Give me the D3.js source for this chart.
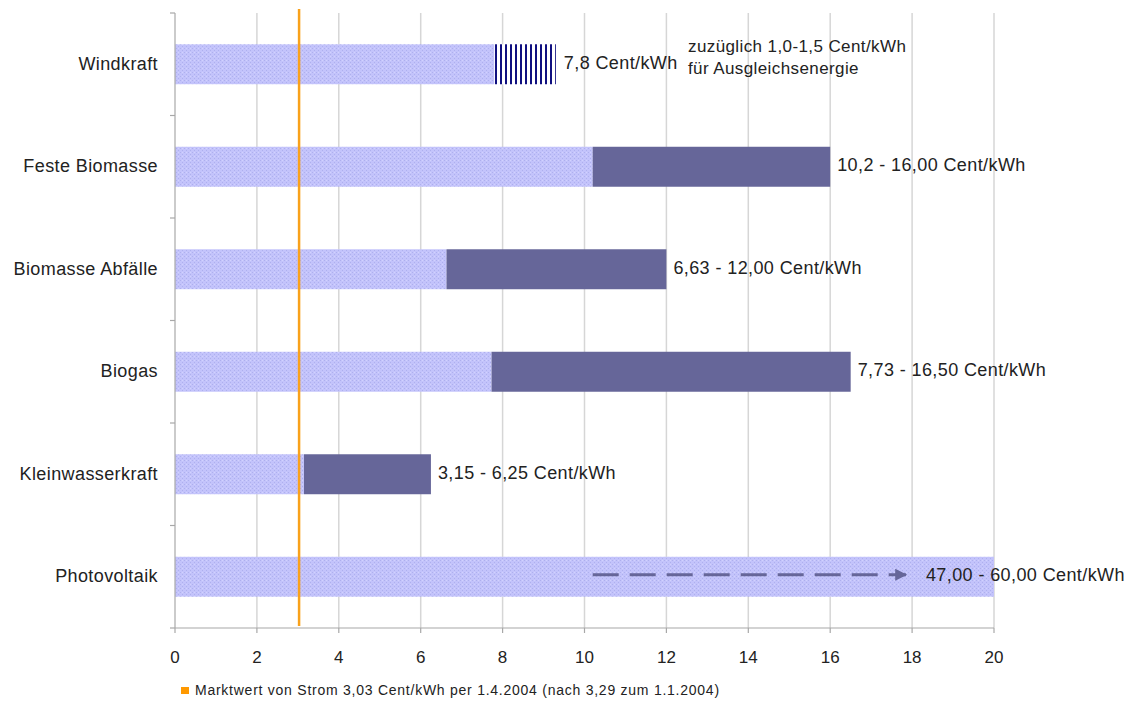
<!DOCTYPE html>
<html>
<head>
<meta charset="utf-8">
<script src="https://cdn.jsdelivr.net/npm/d3@7"></script>
<style>
  html, body { margin: 0; padding: 0; background: #ffffff; }
  svg { display: block; font-family: "Liberation Sans", Arial, sans-serif; }
</style>
</head>
<body>
<svg id="chart" width="1132" height="704"></svg>
<script>
// Einspeisevergütung nach EEG (Cent/kWh) je Energieträger
const categories = ["Windkraft", "Feste Biomasse", "Biomasse Abfälle", "Biogas", "Kleinwasserkraft", "Photovoltaik"];
const lowValues  = [7.8, 10.2, 6.63, 7.73, 3.15, 47.0];
const highValues = [7.8, 16.0, 12.0, 16.5, 6.25, 60.0];
const valueLabels = [
  "7,8 Cent/kWh",
  "10,2 - 16,00 Cent/kWh",
  "6,63 - 12,00 Cent/kWh",
  "7,73 - 16,50 Cent/kWh",
  "3,15 - 6,25 Cent/kWh",
  "47,00 - 60,00 Cent/kWh"
];
// Windkraft: zuzüglich Ausgleichsenergie (max. Zuschlag)
const windSurcharge = 1.5;
const windNote = ["zuzüglich 1,0-1,5 Cent/kWh", "für Ausgleichsenergie"];
// Marktwert von Strom
const marketValue = 3.03;
const legendText = "Marktwert von Strom 3,03 Cent/kWh per 1.4.2004 (nach 3,29 zum 1.1.2004)";
const xTicks = [0, 2, 4, 6, 8, 10, 12, 14, 16, 18, 20];
const xMax = 20;

(function draw() {
const svg = d3.select("#chart");
const plotLeft = 175, plotRight = 994, plotTop = 13, plotBottom = 628;

const x = d3.scaleLinear().domain([0, xMax]).range([plotLeft, plotRight]);
const y = d3.scaleBand().domain(categories).range([plotTop, plotBottom])
  .paddingInner(0.61).paddingOuter(0.305);
const step = y.step();

const COLOR_LIGHT = "#c3c3fb";
const COLOR_DARK = "#666699";
const COLOR_ORANGE = "#f9a11b";
const COLOR_GRID = "#d6d6d6";
const COLOR_AXIS = "#a8a8a8";
const TEXT = "#222";

// Muster: fein gepunktete Füllung und senkrechte Schraffur
const defs = svg.append("defs");
const dots = defs.append("pattern").attr("id", "dots")
  .attr("patternUnits", "userSpaceOnUse").attr("width", 4).attr("height", 4);
dots.append("rect").attr("width", 4).attr("height", 4).attr("fill", COLOR_LIGHT);
dots.append("rect").attr("x", 0).attr("y", 0).attr("width", 1).attr("height", 1).attr("fill", "#aeb0ee");
dots.append("rect").attr("x", 2).attr("y", 2).attr("width", 1).attr("height", 1).attr("fill", "#aeb0ee");
dots.append("rect").attr("x", 2).attr("y", 0).attr("width", 1).attr("height", 1).attr("fill", "#d2d2fd");

const hatch = defs.append("pattern").attr("id", "vhatch")
  .attr("patternUnits", "userSpaceOnUse").attr("width", 5).attr("height", 10);
hatch.append("rect").attr("width", 5).attr("height", 10).attr("fill", "#ffffff");
hatch.append("rect").attr("x", 0).attr("width", 2).attr("height", 10).attr("fill", "#101080");

defs.append("marker").attr("id", "arrowHead")
  .attr("viewBox", "0 0 10 10").attr("refX", 9).attr("refY", 5)
  .attr("markerWidth", 4.5).attr("markerHeight", 4).attr("orient", "auto")
  .append("path").attr("d", "M0,0 L10,5 L0,10 Z").attr("fill", COLOR_DARK);

// Vertikale Gitterlinien
svg.append("g").selectAll("line").data(xTicks.filter(d => d > 0)).join("line")
  .attr("x1", d => x(d)).attr("x2", d => x(d))
  .attr("y1", plotTop).attr("y2", plotBottom)
  .attr("stroke", COLOR_GRID).attr("stroke-width", 1.5);

// Balken
const rows = categories.map((c, i) => ({
  cat: c, low: lowValues[i], high: highValues[i], label: valueLabels[i]
}));

const bars = svg.append("g");
bars.selectAll("rect.base").data(rows).join("rect").attr("class", "base")
  .attr("x", x(0))
  .attr("y", d => y(d.cat))
  .attr("width", d => x(Math.min(d.low, xMax)) - x(0))
  .attr("height", y.bandwidth())
  .attr("fill", "url(#dots)");

bars.selectAll("rect.range").data(rows.filter(d => d.high > d.low && d.low < xMax)).join("rect").attr("class", "range")
  .attr("x", d => x(d.low))
  .attr("y", d => y(d.cat))
  .attr("width", d => x(Math.min(d.high, xMax)) - x(d.low))
  .attr("height", y.bandwidth())
  .attr("fill", COLOR_DARK);

// Windkraft: Zuschlag für Ausgleichsenergie
const wind = rows[0];
bars.append("rect")
  .attr("x", x(wind.low)).attr("y", y(wind.cat))
  .attr("width", x(wind.low + windSurcharge) - x(wind.low))
  .attr("height", y.bandwidth())
  .attr("fill", "url(#vhatch)");

// Photovoltaik: Pfeil für den Bereich jenseits der Skala
const pv = rows[5];
const pvMid = y(pv.cat) + y.bandwidth() / 2 - 2;
svg.append("line")
  .attr("x1", x(10.2)).attr("x2", x(17.85))
  .attr("y1", pvMid).attr("y2", pvMid)
  .attr("stroke", COLOR_DARK).attr("stroke-width", 3)
  .attr("stroke-dasharray", "26,11")
  .attr("marker-end", "url(#arrowHead)");

// Achsen
const axisG = svg.append("g");
axisG.append("line").attr("x1", plotLeft).attr("x2", plotLeft).attr("y1", plotTop).attr("y2", plotBottom)
  .attr("stroke", COLOR_AXIS).attr("stroke-width", 1.2);
axisG.selectAll("line.ytick").data(d3.range(categories.length + 1)).join("line").attr("class", "ytick")
  .attr("x1", plotLeft - 5).attr("x2", plotLeft)
  .attr("y1", i => plotTop + i * step).attr("y2", i => plotTop + i * step)
  .attr("stroke", COLOR_AXIS).attr("stroke-width", 1.2);
axisG.append("line").attr("x1", plotLeft).attr("x2", plotRight).attr("y1", plotBottom).attr("y2", plotBottom)
  .attr("stroke", COLOR_AXIS).attr("stroke-width", 1.2);
axisG.selectAll("line.xtick").data(xTicks).join("line").attr("class", "xtick")
  .attr("x1", d => x(d)).attr("x2", d => x(d))
  .attr("y1", plotBottom).attr("y2", plotBottom + 5)
  .attr("stroke", COLOR_AXIS).attr("stroke-width", 1.2);
axisG.selectAll("text.xlab").data(xTicks).join("text").attr("class", "xlab")
  .attr("x", d => x(d)).attr("y", 663)
  .attr("text-anchor", "middle").attr("font-size", 17).attr("fill", TEXT)
  .text(d => d);

// Kategorienbeschriftung
svg.append("g").selectAll("text").data(categories).join("text")
  .attr("x", 158).attr("y", d => y(d) + y.bandwidth() / 2 - 1)
  .attr("dy", "0.36em").attr("text-anchor", "end")
  .attr("font-size", 18).attr("letter-spacing", 0.4).attr("fill", TEXT)
  .text(d => d);

// Wertbeschriftungen
svg.append("g").selectAll("text").data(rows).join("text")
  .attr("x", (d, i) => {
    if (i === 0) return x(d.low + windSurcharge) + 8;
    if (d.high > xMax) return x(17.85) + 20;
    return x(d.high) + 7;
  })
  .attr("y", d => y(d.cat) + y.bandwidth() / 2 - 2)
  .attr("dy", "0.36em")
  .attr("font-size", 18).attr("letter-spacing", 0.4).attr("fill", TEXT)
  .text(d => d.label);

// Hinweis Ausgleichsenergie
svg.append("g").selectAll("text").data(windNote).join("text")
  .attr("x", 688).attr("y", (d, i) => 46 + i * 22)
  .attr("dy", "0.36em")
  .attr("font-size", 17).attr("letter-spacing", 0.4).attr("fill", TEXT)
  .text(d => d);

// Marktwert-Linie
svg.append("line")
  .attr("x1", x(marketValue)).attr("x2", x(marketValue))
  .attr("y1", 9).attr("y2", plotBottom - 2)
  .attr("stroke", COLOR_ORANGE).attr("stroke-width", 2.5);

// Legende
svg.append("rect").attr("x", 181).attr("y", 687).attr("width", 8).attr("height", 7)
  .attr("fill", "#ff9900");
svg.append("text").attr("x", 195).attr("y", 690).attr("dy", "0.36em")
  .attr("font-size", 14).attr("letter-spacing", 0.75).attr("fill", TEXT)
  .text(legendText);
})();
</script>
</body>
</html>
